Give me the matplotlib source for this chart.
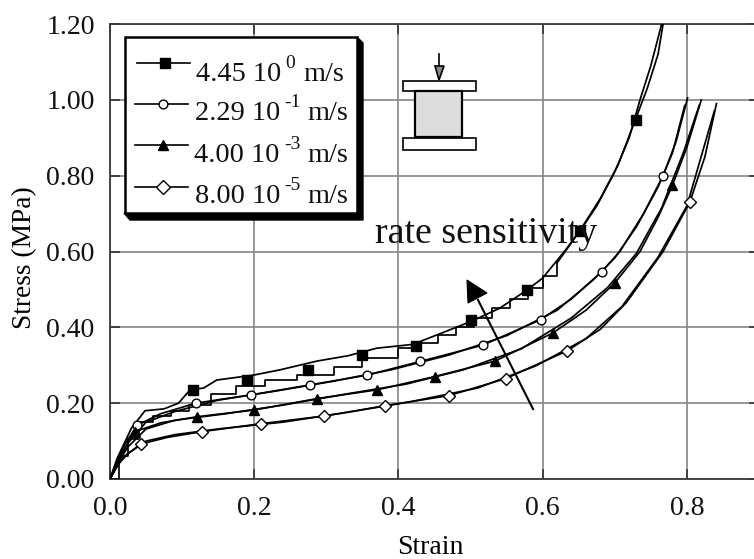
import matplotlib
matplotlib.use("Agg")
import matplotlib.pyplot as plt
from matplotlib.patches import Rectangle, Polygon
from matplotlib.transforms import Affine2D
from matplotlib.lines import Line2D

plt.rcParams['font.family'] = ['Liberation Serif', 'DejaVu Serif']

W, H = 754, 559
x_ticks = [0.0, 0.2, 0.4, 0.6, 0.8]
y_ticks = [0.0, 0.2, 0.4, 0.6, 0.8, 1.0, 1.2]

s1_load_x = [0, .01, .02, .03, .0485, .075, .095, .111, .13, .148, .199, .236, .287, .33, .37, .42, .46, .5, .54, .578, .60, .63, .652, .675, .70, .72, .735, .75, .765]
s1_load_y = [0, .055, .095, .135, .18, .185, .2, .235, .24, .261, .274, .288, .311, .325, .345, .355, .385, .415, .45, .498, .53, .60, .655, .72, .81, .90, 1.0, 1.09, 1.2]
s1_step_x = [0, .012, .025, .04, .06, .085, .11, .14, .175, .215, .26, .31, .35, .40, .43, .455, .48, .505, .53, .555, .58, .60, .62]
s1_step_y = [0, .06, .105, .15, .165, .18, .195, .225, .245, .26, .275, .295, .32, .345, .36, .38, .40, .425, .45, .475, .505, .535, .57]
s1_unl_x = [.62, .635, .655, .68, .705, .725, .745, .76, .767]
s1_unl_y = [.57, .61, .665, .74, .83, .93, 1.03, 1.12, 1.2]

s2_load_x = [0, .01, .02, .038, .07, .119, .196, .277, .357, .43, .517, .597, .64, .682, .707, .74, .767, .785, .801]
s2_load_y = [0, .05, .09, .142, .172, .2, .222, .248, .274, .31, .353, .42, .475, .547, .60, .70, .80, .89, 1.005]
s2_unl_x = [0, .012, .025, .05, .09, .15, .23, .31, .39, .47, .55, .62, .67, .70, .73, .76, .78, .797]
s2_unl_y = [0, .05, .095, .15, .178, .208, .232, .258, .288, .327, .378, .445, .525, .583, .665, .77, .86, .985]

s3_load_x = [0, .01, .02, .035, .07, .12, .2, .287, .37, .45, .534, .614, .66, .70, .735, .76, .78, .80, .82]
s3_load_y = [0, .045, .08, .125, .148, .164, .182, .212, .235, .27, .311, .385, .445, .517, .60, .69, .775, .875, 1.0]
s3_unl_x = [0, .012, .025, .05, .09, .16, .24, .33, .41, .49, .57, .64, .69, .73, .765, .795, .817]
s3_unl_y = [0, .045, .085, .132, .155, .172, .195, .225, .25, .288, .343, .425, .505, .595, .715, .86, .985]

s4_load_x = [0, .01, .02, .0425, .08, .128, .21, .297, .381, .47, .549, .634, .68, .716, .767, .804, .825, .841]
s4_load_y = [0, .035, .06, .092, .11, .125, .146, .166, .193, .22, .265, .338, .395, .465, .60, .73, .85, .99]
s4_unl_x = [0, .012, .025, .05, .09, .15, .24, .33, .42, .51, .59, .66, .71, .76, .80, .838]
s4_unl_y = [0, .04, .067, .1, .117, .132, .15, .176, .205, .24, .298, .37, .455, .585, .72, .97]

s1_mx = [.115, .19, .275, .35, .425, .5, .578, .652, .729]
s1_my = [.235, .26, .288, .328, .352, .42, .498, .655, .947]
s2_mx = [.038, .119, .196, .277, .357, .43, .517, .597, .682, .767]
s2_my = [.142, .2, .222, .248, .274, .31, .353, .42, .547, .8]
s3_mx = [.035, .12, .2, .287, .37, .45, .534, .614, .70, .78]
s3_my = [.125, .164, .182, .212, .235, .27, .311, .385, .517, .775]
s4_mx = [.0425, .128, .21, .297, .381, .47, .549, .634, .804]
s4_my = [.092, .125, .146, .166, .193, .22, .265, .338, .73]

legend_labels = ["4.45 10", "2.29 10", "4.00 10", "8.00 10"]
legend_exps = ["0", "-1", "-3", "-5"]

fig = plt.figure(figsize=(W / 100, H / 100), dpi=100)
L, R, T, B = 110, 759, 24, 479
ax = fig.add_axes([L / W, 1 - B / H, (R - L) / W, (B - T) / H])
ax.set_xlim(0, 0.9)
ax.set_ylim(0, 1.2)
ax.set_xticks(x_ticks)
ax.set_xticklabels([f"{v:.1f}" for v in x_ticks])
ax.set_yticks(y_ticks)
ax.set_yticklabels([f"{v:.2f}" for v in y_ticks])
ax.grid(True, color='#858585', lw=1.2)
ax.set_axisbelow(True)
ax.tick_params(direction='in', length=7.5, width=1.2, color='#333333', labelsize=20,
               top=True, right=True, labelcolor='#111111')
ax.tick_params(axis='y', pad=11)
ax.tick_params(axis='x', pad=12)
for s in ax.spines.values():
    s.set_color('#3a3a3a')
    s.set_linewidth(1.3)

px = Affine2D().scale(1, -1).translate(0, H)  # reference pixel coordinates

fig.text(430 / W, 1 - 547 / H, "Strain", ha='center', va='center', fontsize=20)
fig.text(25 / W, 1 - 258 / H, "Stress (MPa)", ha='center', va='center', rotation=90, fontsize=19.7)

for lx, ly, ux, uy in [(s2_load_x, s2_load_y, s2_unl_x, s2_unl_y),
                       (s3_load_x, s3_load_y, s3_unl_x, s3_unl_y),
                       (s4_load_x, s4_load_y, s4_unl_x, s4_unl_y)]:
    ax.plot(lx, ly, color='k', lw=1.25, zorder=3)
    ax.plot(ux, uy, color='k', lw=1.25, zorder=3)
ax.plot(s1_load_x, s1_load_y, color='k', lw=1.25, zorder=3)
ax.plot(s1_step_x, s1_step_y, color='k', lw=1.25, zorder=3, drawstyle='steps-post')
ax.plot(s1_unl_x, s1_unl_y, color='k', lw=1.25, zorder=3)

mk = dict(ls='none', zorder=4)
ax.plot(s1_mx, s1_my, marker='s', ms=7.5, mfc='k', mec='k', **mk)
ax.plot(s2_mx, s2_my, marker='o', ms=6.3, mfc='w', mec='k', mew=1.0, **mk)
ax.plot(s3_mx, s3_my, marker='^', ms=6.8, mfc='k', mec='k', **mk)
ax.plot(s4_mx, s4_my, marker='D', ms=6.3, mfc='w', mec='k', mew=1.0, **mk)

# Arrow + annotation
ax.add_line(Line2D([533, 478], [409, 300], transform=px, color='k', lw=1.5, zorder=5))
ax.add_patch(Polygon([(467, 280), (487, 293), (468, 303)], closed=True, transform=px, fc='k', ec='k', lw=0.8, zorder=5))
ax.text(375, 243, "rate sensitivity", transform=px, fontsize=27.3, ha='left', va='baseline', zorder=6, color='#111111')

# Specimen sketch
ec = dict(ec='k', lw=1.2, zorder=5, transform=px)
ax.add_patch(Rectangle((403, 81), 73, 10, fc='w', **ec))
ax.add_patch(Rectangle((403, 138), 73, 12, fc='w', **ec))
ax.add_patch(Rectangle((415, 91), 47, 46, fc='#dddddd', ec='k', lw=1.6, zorder=5, transform=px))
ax.add_line(Line2D([439, 439], [54, 70], transform=px, color='k', lw=1.2, zorder=5))
ax.add_patch(Polygon([(435, 66), (444, 66), (439, 80)], closed=True, transform=px, fc='#888888', ec='k', lw=1.2, zorder=5))

# Legend
ax.add_patch(Polygon([(357, 37), (363, 43), (363, 220), (130, 220), (124, 213), (357, 213)], closed=True,
                     transform=px, fc='k', ec='k', zorder=7))
ax.add_patch(Rectangle((125, 37), 232, 176, fc='w', ec='k', lw=1.8, zorder=8, transform=px))
styles = [dict(marker='s', ms=7.5, mfc='k', mec='k'),
          dict(marker='o', ms=6.3, mfc='w', mec='k', mew=1.0),
          dict(marker='^', ms=6.8, mfc='k', mec='k'),
          dict(marker='D', ms=7.5, mfc='w', mec='k', mew=1.0)]
ly_px = [63, 104, 145, 187]
tx_px = [196, 195, 194, 195]
ex_px = [285, 284, 284, 284]
mx_px = [303, 307, 307, 307]
lm_px = [137, 135, 135, 135]
base_px = [81, 120, 162, 203]
for i in range(4):
    ax.add_line(Line2D([lm_px[i], lm_px[i] + 53], [ly_px[i], ly_px[i]], transform=px, color='k', lw=1.2, zorder=9))
    ax.add_line(Line2D([lm_px[i] + 28], [ly_px[i]], transform=px, color='k', lw=0, zorder=10, **styles[i]))
    ax.text(tx_px[i], base_px[i], legend_labels[i], transform=px, fontsize=20.4, ha='left', va='baseline', zorder=9, color='#111111')
    ax.text(ex_px[i], base_px[i] - 13, legend_exps[i], transform=px, fontsize=14, ha='left', va='baseline', zorder=9, color='#111111')
    ax.text(mx_px[i], base_px[i], "m/s", transform=px, fontsize=20.4, ha='left', va='baseline', zorder=9, color='#111111')

fig.savefig("out.png", dpi=100)
